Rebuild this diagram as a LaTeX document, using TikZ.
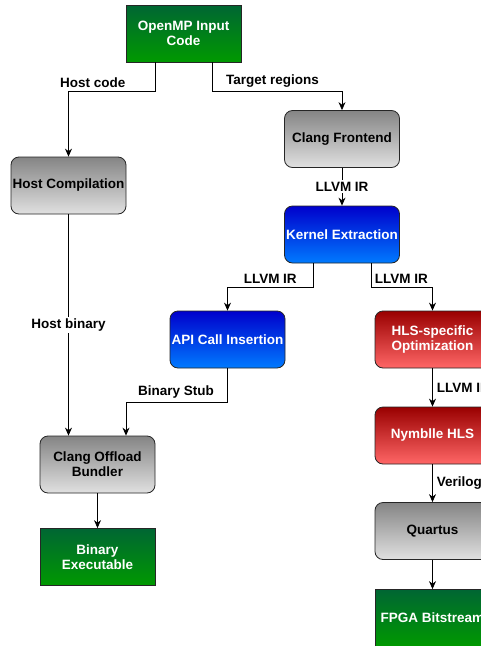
\documentclass[tikz,border=0pt]{standalone}
\usepackage{fontspec}
\setmainfont{Liberation Sans}
\usetikzlibrary{arrows.meta}

\definecolor{grntop}{RGB}{0,102,51}
\definecolor{grnbot}{RGB}{0,153,0}
\definecolor{blutop}{RGB}{0,0,204}
\definecolor{blubot}{RGB}{0,122,255}
\definecolor{redtop}{RGB}{153,0,0}
\definecolor{redbot}{RGB}{255,102,102}

\begin{document}
\begin{tikzpicture}[x=1pt, y=-1pt, line width=.8pt,
  box/.style={minimum width=115pt, minimum height=57pt, inner sep=1pt, align=center,
    font=\fontsize{13.5}{15}\selectfont\bfseries, draw=black!85},
  greenbox/.style={box, top color=grntop, bottom color=grnbot, text=white},
  graybox/.style={box, rounded corners=8pt, top color=black!48, bottom color=black!12},
  bluebox/.style={box, rounded corners=8pt, top color=blutop, bottom color=blubot, text=white},
  redbox/.style={box, rounded corners=8pt, top color=redtop, bottom color=redbot, text=white},
  lbl/.style={font=\fontsize{13.5}{15}\selectfont\bfseries, inner sep=2pt},
  arr/.style={-{Stealth[length=8pt,width=7pt]}}]
\useasboundingbox (0,0) rectangle (481,646);
\clip (0,0) rectangle (481,646);
\fill[white] (0,0) rectangle (481,646);%%
% host side
\node[greenbox] (omp) at (183.5,33.5) {OpenMP Input\\Code};%%
\node[graybox] (hostc) at (68.5,185.5) {Host Compilation};%%
\node[graybox] (bundler) at (97.5,464.5) {Clang Offload\\Bundler};%%
\node[greenbox] (binexe) at (97.5,557) {Binary\\Executable};%%
% device side
\node[graybox] (clang) at (342,139) {Clang Frontend};%%
\node[bluebox] (kernel) at (342,234.5) {Kernel Extraction};%%
\node[bluebox] (api) at (227.5,339.5) {API Call Insertion};%%
\node[redbox] (hlsopt) at (432.5,339.5) {HLS-specific\\Optimization};%%
\node[redbox] (nymblle) at (432.5,435.5) {Nymblle HLS};%%
\node[graybox] (quartus) at (432.5,531) {Quartus};%%
\node[greenbox] (fpga) at (432.5,618) {FPGA Bitstream};%%
% connectors
\draw[arr] ([xshift=-28.5pt]omp.south) -- ++(0,29) -| (hostc.north)
  node[lbl, pos=0.36, anchor=south, yshift=1.5pt] {Host code};%%
\draw[arr] ([xshift=28.5pt]omp.south) -- ++(0,29) -| (clang.north)
  node[lbl, pos=0.233, anchor=south, yshift=1.5pt] {Target regions};%%
\draw[arr] (clang) -- (kernel) node[lbl, midway, fill=white] {LLVM IR};%%
\draw[arr] (hostc.south) -- (hostc.south |- bundler.north)
  node[lbl, midway, fill=white] {Host binary};%%
\draw[arr] ([xshift=-29pt]kernel.south) -- ++(0,24) -| (api.north)
  node[lbl, pos=0.25, anchor=south, yshift=1.5pt] {LLVM IR};%%
\draw[arr] ([xshift=29pt]kernel.south) -- ++(0,24) -| (hlsopt.north)
  node[lbl, pos=0.246, anchor=south, yshift=1.5pt] {LLVM IR};%%
\draw[arr] (api.south) -- ++(0,34) -| ([xshift=28.5pt]bundler.north)
  node[lbl, pos=0.254, anchor=south, yshift=1.5pt] {Binary Stub};%%
\draw[arr] (bundler) -- (binexe);%%
\draw[arr] (hlsopt) -- (nymblle) node[lbl, midway, right, xshift=2pt] {LLVM IR};%%
\draw[arr] (nymblle) -- (quartus) node[lbl, midway, right, xshift=2pt] {Verilog};%%
\draw[arr] (quartus) -- (fpga);%%
\end{tikzpicture}
\end{document}
